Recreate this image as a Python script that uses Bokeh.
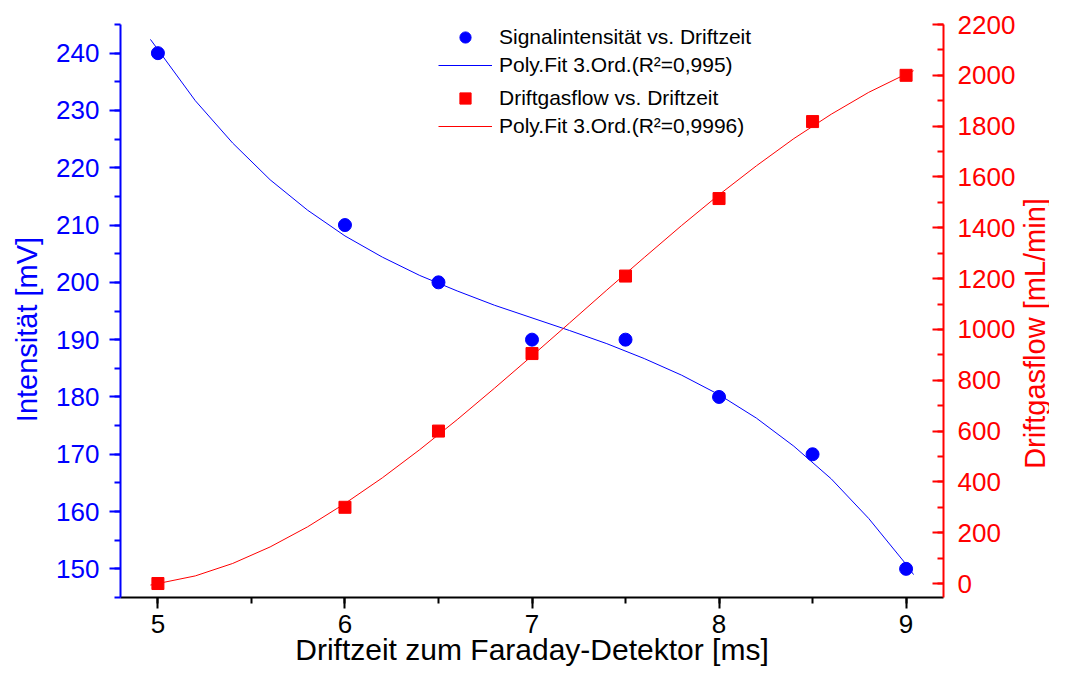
import math
from bokeh.plotting import figure
from bokeh.layouts import row
from bokeh.models import (Range1d, LinearAxis, SingleIntervalTicker, Legend, LegendItem)
from bokeh.core.properties import value
from bokeh.embed import file_html
from bokeh.resources import INLINE

# ---- data ----
drift_time = [5.0, 6.0, 6.5, 7.0, 7.5, 8.0, 8.5, 9.0]
signal_mv = [240, 210, 200, 190, 190, 180, 170, 150]
gasflow = [0, 300, 600, 905, 1210, 1515, 1818, 2000]

fit_x = [4.96, 5.2, 5.4, 5.6, 5.8, 6.0, 6.2, 6.4, 6.6, 6.8, 7.0, 7.2, 7.4, 7.6,
         7.8, 8.0, 8.2, 8.4, 8.6, 8.8, 9.0, 9.04]
signal_fit = [242.4, 231.7, 224.3, 217.9, 212.6, 208.1, 204.4, 201.2, 198.5, 196.0,
              193.8, 191.6, 189.3, 186.7, 183.8, 180.4, 176.3, 171.4, 165.7, 158.8,
              150.8, 149.0]
gasflow_fit = [-6, 30, 79, 144, 223, 315, 416, 527, 645, 769, 896, 1025, 1155, 1283,
               1409, 1530, 1644, 1751, 1847, 1933, 2005, 2018]

x_label = "Driftzeit zum Faraday-Detektor [ms]"
left_label = "Intensität [mV]"
right_label = "Driftgasflow [mL/min]"
legend_labels = ["Signalintensität vs. Driftzeit", "Poly.Fit 3.Ord.(R²=0,995)",
                 "Driftgasflow vs. Driftzeit", "Poly.Fit 3.Ord.(R²=0,9996)"]

FONT = "Liberation Sans"
BLUE = "#0000FF"
RED = "#FF0000"
H = 674
TOP, BOTTOM = 24, 77
FRAME_H = H - TOP - BOTTOM
LEFT_W, MAIN_W, RIGHT_W = 45, 974, 30

p = figure(width=MAIN_W, height=H, x_range=Range1d(4.8, 9.2), y_range=Range1d(145, 245),
           output_backend="svg", toolbar_location=None,
           min_border_left=75, min_border_right=76, min_border_top=TOP, min_border_bottom=BOTTOM)
p.outline_line_color = None
p.xgrid.visible = False
p.ygrid.visible = False
p.background_fill_color = "white"
p.border_fill_color = "white"

p.extra_y_ranges = {"right": Range1d(-55, 2200)}

# bottom axis
xa = p.xaxis[0]
xa.ticker = SingleIntervalTicker(interval=1, num_minor_ticks=2)
xa.axis_label = x_label
xa.axis_line_width = 2
xa.axis_line_color = "black"
xa.major_tick_line_width = 2
xa.minor_tick_line_width = 2
xa.major_tick_out = 11
xa.major_tick_in = 0
xa.minor_tick_out = 6
xa.minor_tick_in = 0
xa.major_label_text_font = FONT
xa.major_label_text_font_size = "26px"
xa.major_label_text_color = "black"
xa.major_label_standoff = 6
xa.axis_label_text_font = FONT
xa.axis_label_text_font_size = "30px"
xa.axis_label_text_font_style = "normal"
xa.axis_label_text_color = "black"
xa.axis_label_standoff = -3

# left axis
ya = p.yaxis[0]
ya.ticker = SingleIntervalTicker(interval=10, num_minor_ticks=2)
ya.axis_line_width = 2
ya.axis_line_color = BLUE
ya.major_tick_line_color = BLUE
ya.minor_tick_line_color = BLUE
ya.major_tick_line_width = 2
ya.minor_tick_line_width = 2
ya.major_tick_out = 11
ya.major_tick_in = 0
ya.minor_tick_out = 6
ya.minor_tick_in = 0
ya.major_label_text_font = FONT
ya.major_label_text_font_size = "26px"
ya.major_label_text_color = BLUE
ya.major_label_standoff = 10

# right axis
ra = LinearAxis(y_range_name="right",
                ticker=SingleIntervalTicker(interval=200, num_minor_ticks=2))
ra.axis_line_width = 2
ra.axis_line_color = RED
ra.major_tick_line_color = RED
ra.minor_tick_line_color = RED
ra.major_tick_line_width = 2
ra.minor_tick_line_width = 2
ra.major_tick_out = 0
ra.major_tick_in = 11
ra.minor_tick_out = 0
ra.minor_tick_in = 6
ra.major_label_text_font = FONT
ra.major_label_text_font_size = "26px"
ra.major_label_text_color = RED
ra.major_label_standoff = 14
p.add_layout(ra, "right")

# glyphs
r_bfit = p.line(fit_x, signal_fit, line_color=BLUE, line_width=1)
r_rfit = p.line(fit_x, gasflow_fit, line_color=RED, line_width=1, y_range_name="right")
r_bpts = p.scatter(drift_time, signal_mv, marker="circle", size=13,
                   fill_color=BLUE, line_color=BLUE)
r_rpts = p.scatter(drift_time, gasflow, marker="square", size=12,
                   fill_color=RED, line_color=RED, y_range_name="right")

def make_legend(items, loc):
    return Legend(items=items, location=loc, padding=0, margin=0, spacing=0,
                  glyph_width=54, glyph_height=28, label_height=28, label_standoff=7,
                  label_text_font=FONT, label_text_font_size="21px",
                  label_text_color="black", border_line_color=None,
                  background_fill_alpha=0)

leg1 = make_legend([LegendItem(label=legend_labels[0], renderers=[r_bpts]),
                    LegendItem(label=legend_labels[1], renderers=[r_bfit])], (318, 518))
leg2 = make_legend([LegendItem(label=legend_labels[2], renderers=[r_rpts]),
                    LegendItem(label=legend_labels[3], renderers=[r_rfit])], (318, 457))
p.add_layout(leg1, "center")
p.add_layout(leg2, "center")


# narrow side strips carrying the vertical axis titles (read bottom-to-top);
# their frames are aligned with the main plot frame by the row layout
def title_strip(width, text, color, cx, cy):
    f = figure(width=width, height=H, x_range=Range1d(0, width), y_range=Range1d(0, FRAME_H),
               x_axis_type=None, y_axis_type=None, min_border=0,
               min_border_top=TOP, min_border_bottom=BOTTOM,
               output_backend="svg", toolbar_location=None)
    f.outline_line_color = None
    f.background_fill_color = "white"
    f.border_fill_color = "white"
    f.text(x=[cx], y=[cy], text=[text], angle=math.pi / 2,
           text_align="center", text_baseline="middle",
           text_font=value(FONT), text_font_size="29px", text_color=color)
    return f

left_strip = title_strip(LEFT_W, left_label, BLUE, 26, H - BOTTOM - 329)
right_strip = title_strip(RIGHT_W, right_label, RED, 15, H - BOTTOM - 333)

layout = row(left_strip, p, right_strip, spacing=0)
open("out.html", "w").write(file_html(layout, INLINE))
